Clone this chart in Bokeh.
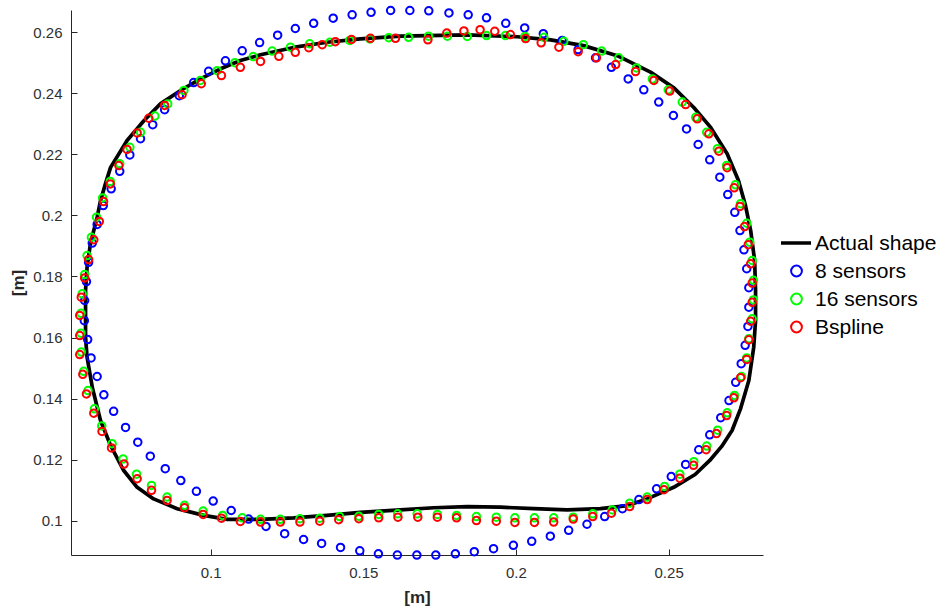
from bokeh.plotting import figure
from bokeh.models import Range1d, FixedTicker, Legend, LegendItem
from bokeh.embed import file_html
from bokeh.resources import INLINE

# ---------------- data (metres) ----------------
actual_x = [0.0611, 0.0594, 0.0589, 0.0589, 0.0589, 0.0594, 0.0605, 0.0627, 0.0638, 0.0654,
            0.0671, 0.0725, 0.0780, 0.0834, 0.0900, 0.0965, 0.1031, 0.1096, 0.1162, 0.1270,
            0.1380, 0.1489, 0.1620, 0.1839, 0.2003, 0.2112, 0.2220, 0.2330, 0.2439, 0.2514,
            0.2580, 0.2636, 0.2690, 0.2727, 0.2750, 0.2767, 0.2780, 0.2783, 0.2783, 0.2777,
            0.2761, 0.2734, 0.2706, 0.2672, 0.2633, 0.2585, 0.2515, 0.2428, 0.2363, 0.2275,
            0.2166, 0.2057, 0.1948, 0.1839, 0.1729, 0.1620, 0.1489, 0.1380, 0.1271, 0.1162,
            0.1053, 0.0976, 0.0889, 0.0812, 0.0758, 0.0714, 0.0671, 0.0638]
actual_y = [0.1439, 0.1537, 0.1603, 0.1679, 0.1756, 0.1832, 0.1909, 0.1996, 0.2050, 0.2105,
            0.2159, 0.2247, 0.2312, 0.2367, 0.2411, 0.2449, 0.2482, 0.2509, 0.2528, 0.2552,
            0.2569, 0.2580, 0.2589, 0.2593, 0.2587, 0.2577, 0.2558, 0.2525, 0.2471, 0.2421,
            0.2356, 0.2290, 0.2204, 0.2116, 0.2034, 0.1952, 0.1854, 0.1756, 0.1657, 0.1570,
            0.1461, 0.1369, 0.1297, 0.1245, 0.1199, 0.1153, 0.1111, 0.1073, 0.1051, 0.1041,
            0.1037, 0.1041, 0.1046, 0.1048, 0.1044, 0.1037, 0.1029, 0.1019, 0.1011, 0.1006,
            0.1006, 0.1019, 0.1041, 0.1073, 0.1111, 0.1166, 0.1248, 0.1330]

s8_x = [0.0585, 0.0586, 0.0592, 0.0599, 0.0611, 0.0627, 0.0647, 0.0673, 0.0701, 0.0734,
        0.0769, 0.0809, 0.0848, 0.0896, 0.0943, 0.0992, 0.1047, 0.1102, 0.1159, 0.1218,
        0.1276, 0.1336, 0.1400, 0.1462, 0.1524, 0.1588, 0.1651, 0.1713, 0.1779, 0.1842,
        0.1902, 0.1965, 0.2027, 0.2088, 0.2150, 0.2202, 0.2259, 0.2311, 0.2366, 0.2417,
        0.2466, 0.2514, 0.2557, 0.2595, 0.2633, 0.2666, 0.2692, 0.2715, 0.2732, 0.2745,
        0.2754, 0.2761, 0.2761, 0.2758, 0.2749, 0.2736, 0.2718, 0.2696, 0.2669, 0.2633,
        0.2597, 0.2554, 0.2507, 0.2459, 0.2401, 0.2347, 0.2289, 0.2231, 0.2171, 0.2111,
        0.2050, 0.1990, 0.1925, 0.1862, 0.1800, 0.1736, 0.1674, 0.1610, 0.1548, 0.1487,
        0.1424, 0.1362, 0.1303, 0.1241, 0.1180, 0.1123, 0.1066, 0.1007, 0.0952, 0.0901,
        0.0850, 0.0801, 0.0760, 0.0720, 0.0681, 0.0649, 0.0627, 0.0607, 0.0596]
s8_y = [0.1657, 0.1723, 0.1785, 0.1848, 0.1911, 0.1972, 0.2034, 0.2089, 0.2146, 0.2200,
        0.2253, 0.2299, 0.2348, 0.2394, 0.2437, 0.2474, 0.2508, 0.2541, 0.2568, 0.2592,
        0.2614, 0.2631, 0.2648, 0.2659, 0.2667, 0.2673, 0.2673, 0.2672, 0.2665, 0.2659,
        0.2649, 0.2631, 0.2616, 0.2597, 0.2575, 0.2545, 0.2518, 0.2487, 0.2449, 0.2413,
        0.2373, 0.2329, 0.2285, 0.2234, 0.2184, 0.2127, 0.2070, 0.2012, 0.1952, 0.1889,
        0.1827, 0.1765, 0.1701, 0.1638, 0.1576, 0.1516, 0.1455, 0.1395, 0.1339, 0.1283,
        0.1234, 0.1186, 0.1146, 0.1106, 0.1071, 0.1041, 0.1015, 0.0990, 0.0970, 0.0951,
        0.0934, 0.0921, 0.0910, 0.0900, 0.0893, 0.0889, 0.0889, 0.0889, 0.0893, 0.0903,
        0.0914, 0.0927, 0.0940, 0.0959, 0.0983, 0.1007, 0.1035, 0.1066, 0.1098, 0.1133,
        0.1172, 0.1213, 0.1259, 0.1307, 0.1360, 0.1414, 0.1474, 0.1535, 0.1595]

s16_x = [0.0574, 0.0578, 0.0586, 0.0594, 0.0608, 0.0625, 0.0645, 0.0670, 0.0701, 0.0734,
         0.0769, 0.0816, 0.0858, 0.0911, 0.0965, 0.1020, 0.1078, 0.1138, 0.1200, 0.1260,
         0.1323, 0.1389, 0.1454, 0.1520, 0.1582, 0.1647, 0.1712, 0.1774, 0.1839, 0.1902,
         0.1964, 0.2028, 0.2090, 0.2155, 0.2219, 0.2279, 0.2335, 0.2393, 0.2445, 0.2497,
         0.2543, 0.2587, 0.2623, 0.2658, 0.2688, 0.2717, 0.2734, 0.2754, 0.2764, 0.2772,
         0.2776, 0.2776, 0.2772, 0.2761, 0.2754, 0.2737, 0.2714, 0.2690, 0.2659, 0.2623,
         0.2581, 0.2535, 0.2485, 0.2428, 0.2371, 0.2314, 0.2250, 0.2186, 0.2122, 0.2059,
         0.1995, 0.1934, 0.1869, 0.1804, 0.1741, 0.1675, 0.1611, 0.1549, 0.1484, 0.1421,
         0.1356, 0.1291, 0.1227, 0.1162, 0.1102, 0.1038, 0.0974, 0.0913, 0.0856, 0.0805,
         0.0756, 0.0712, 0.0676, 0.0642, 0.0618, 0.0597, 0.0583, 0.0575, 0.0574]
s16_y = [0.1681, 0.1745, 0.1808, 0.1870, 0.1930, 0.1996, 0.2059, 0.2113, 0.2171, 0.2225,
         0.2274, 0.2327, 0.2367, 0.2411, 0.2444, 0.2476, 0.2502, 0.2522, 0.2540, 0.2553,
         0.2564, 0.2569, 0.2575, 0.2580, 0.2584, 0.2585, 0.2589, 0.2589, 0.2588, 0.2591,
         0.2591, 0.2588, 0.2585, 0.2572, 0.2561, 0.2540, 0.2518, 0.2485, 0.2449, 0.2413,
         0.2373, 0.2323, 0.2274, 0.2220, 0.2165, 0.2102, 0.2040, 0.1976, 0.1914, 0.1854,
         0.1789, 0.1725, 0.1663, 0.1598, 0.1535, 0.1474, 0.1412, 0.1355, 0.1298, 0.1246,
         0.1195, 0.1154, 0.1114, 0.1079, 0.1059, 0.1037, 0.1024, 0.1013, 0.1011, 0.1011,
         0.1011, 0.1013, 0.1015, 0.1019, 0.1022, 0.1024, 0.1024, 0.1022, 0.1016, 0.1015,
         0.1010, 0.1008, 0.1006, 0.1006, 0.1011, 0.1019, 0.1033, 0.1052, 0.1079, 0.1117,
         0.1154, 0.1204, 0.1254, 0.1312, 0.1368, 0.1428, 0.1491, 0.1554, 0.1616]

bsp_x = [0.0570, 0.0575, 0.0586, 0.0599, 0.0616, 0.0634, 0.0648, 0.0670, 0.0698, 0.0725,
         0.0758, 0.0796, 0.0848, 0.0905, 0.0968, 0.1034, 0.1096, 0.1162, 0.1222, 0.1276,
         0.1320, 0.1364, 0.1407, 0.1460, 0.1522, 0.1604, 0.1710, 0.1772, 0.1828, 0.1881,
         0.1929, 0.1980, 0.2030, 0.2081, 0.2139, 0.2202, 0.2262, 0.2325, 0.2390, 0.2450,
         0.2502, 0.2554, 0.2592, 0.2630, 0.2663, 0.2690, 0.2713, 0.2732, 0.2747, 0.2759,
         0.2767, 0.2772, 0.2772, 0.2767, 0.2761, 0.2754, 0.2734, 0.2712, 0.2688, 0.2655,
         0.2621, 0.2580, 0.2535, 0.2483, 0.2428, 0.2371, 0.2311, 0.2250, 0.2186, 0.2122,
         0.2059, 0.1995, 0.1934, 0.1869, 0.1804, 0.1741, 0.1677, 0.1612, 0.1549, 0.1484,
         0.1418, 0.1356, 0.1291, 0.1227, 0.1162, 0.1096, 0.1034, 0.0974, 0.0913, 0.0856,
         0.0805, 0.0758, 0.0715, 0.0674, 0.0643, 0.0616, 0.0592, 0.0580, 0.0570, 0.0570]
bsp_y = [0.1674, 0.1734, 0.1797, 0.1857, 0.1922, 0.1982, 0.2047, 0.2105, 0.2165, 0.2218,
         0.2272, 0.2320, 0.2362, 0.2397, 0.2433, 0.2460, 0.2487, 0.2506, 0.2523, 0.2536,
         0.2551, 0.2561, 0.2571, 0.2578, 0.2582, 0.2582, 0.2577, 0.2599, 0.2606, 0.2610,
         0.2605, 0.2594, 0.2581, 0.2567, 0.2553, 0.2538, 0.2518, 0.2496, 0.2473, 0.2444,
         0.2409, 0.2365, 0.2318, 0.2269, 0.2212, 0.2158, 0.2092, 0.2031, 0.1965, 0.1906,
         0.1843, 0.1780, 0.1717, 0.1655, 0.1594, 0.1530, 0.1470, 0.1404, 0.1346, 0.1287,
         0.1234, 0.1183, 0.1141, 0.1103, 0.1071, 0.1048, 0.1026, 0.1015, 0.1007, 0.0997,
         0.0996, 0.0996, 0.1000, 0.1002, 0.1011, 0.1013, 0.1013, 0.1013, 0.1011, 0.1008,
         0.1005, 0.1000, 0.0997, 0.0997, 0.0997, 0.0999, 0.1010, 0.1022, 0.1044, 0.1068,
         0.1101, 0.1139, 0.1187, 0.1240, 0.1294, 0.1354, 0.1417, 0.1481, 0.1546, 0.1608]

series_labels = ["Actual shape", "8 sensors", "16 sensors", "Bspline"]

x_ticks = [0.1, 0.15, 0.2, 0.25]
x_tick_labels = ["0.1", "0.15", "0.2", "0.25"]
y_ticks = [0.1, 0.12, 0.14, 0.16, 0.18, 0.2, 0.22, 0.24, 0.26]
y_tick_labels = ["0.1", "0.12", "0.14", "0.16", "0.18", "0.2", "0.22", "0.24", "0.26"]

# ---------------- figure ----------------
FONT = "Liberation Sans"
AXC = "#262626"

p = figure(frame_width=692, frame_height=545,
           min_border_left=71, min_border_right=180, min_border_top=10, min_border_bottom=56,
           x_range=Range1d(0.0543, 0.2809), y_range=Range1d(0.08876, 0.2673),
           output_backend="svg", toolbar_location=None, title=None)
p.outline_line_color = None
p.grid.visible = False
p.background_fill_color = "white"
p.border_fill_color = "white"

closed_x = actual_x + actual_x[:1]
closed_y = actual_y + actual_y[:1]
r_actual = p.line(closed_x, closed_y, line_color="black", line_width=3.7,
                  line_join="round", line_cap="round", level="overlay")
mk = dict(marker="circle", size=7.5, fill_color=None, line_width=2, level="overlay")
r8 = p.scatter(s8_x, s8_y, line_color="#0000ff", **mk)
r16 = p.scatter(s16_x, s16_y, line_color="#00ff00", **mk)
rb = p.scatter(bsp_x, bsp_y, line_color="#ff0000", **mk)

for ax in (p.xaxis[0], p.yaxis[0]):
    ax.axis_line_color = AXC
    ax.axis_line_width = 1
    ax.major_tick_line_color = AXC
    ax.major_tick_in = 6
    ax.major_tick_out = 0
    ax.minor_tick_line_color = None
    ax.major_label_text_font = FONT
    ax.major_label_text_font_size = "15px"
    ax.major_label_text_color = "#303030"
    ax.axis_label_text_font = FONT
    ax.axis_label_text_font_size = "17px"
    ax.axis_label_text_font_style = "bold"
    ax.axis_label_text_color = AXC

p.xaxis.ticker = FixedTicker(ticks=x_ticks)
p.xaxis.major_label_overrides = dict(zip(x_ticks, x_tick_labels))
p.yaxis.ticker = FixedTicker(ticks=y_ticks)
p.yaxis.major_label_overrides = dict(zip(y_ticks, y_tick_labels))
p.xaxis.axis_label = "[m]"
p.yaxis.axis_label = "[m]"
p.xaxis.major_label_standoff = 12
p.xaxis.axis_label_standoff = 7
p.yaxis.major_label_standoff = 9
p.yaxis.axis_label_standoff = 2

legend = Legend(items=[LegendItem(label=series_labels[0], renderers=[r_actual]),
                       LegendItem(label=series_labels[1], renderers=[r8]),
                       LegendItem(label=series_labels[2], renderers=[r16]),
                       LegendItem(label=series_labels[3], renderers=[rb])],
                location=(18, 215))
legend.border_line_color = None
legend.background_fill_alpha = 0
legend.label_text_font = FONT
legend.label_text_font_size = "21px"
legend.label_text_color = "black"
legend.glyph_width = 30
legend.glyph_height = 27
legend.label_height = 27
legend.spacing = 1
legend.padding = 0
legend.margin = 0
legend.label_standoff = 4
p.add_layout(legend, "right")

open("out.html", "w").write(file_html(p, INLINE))
